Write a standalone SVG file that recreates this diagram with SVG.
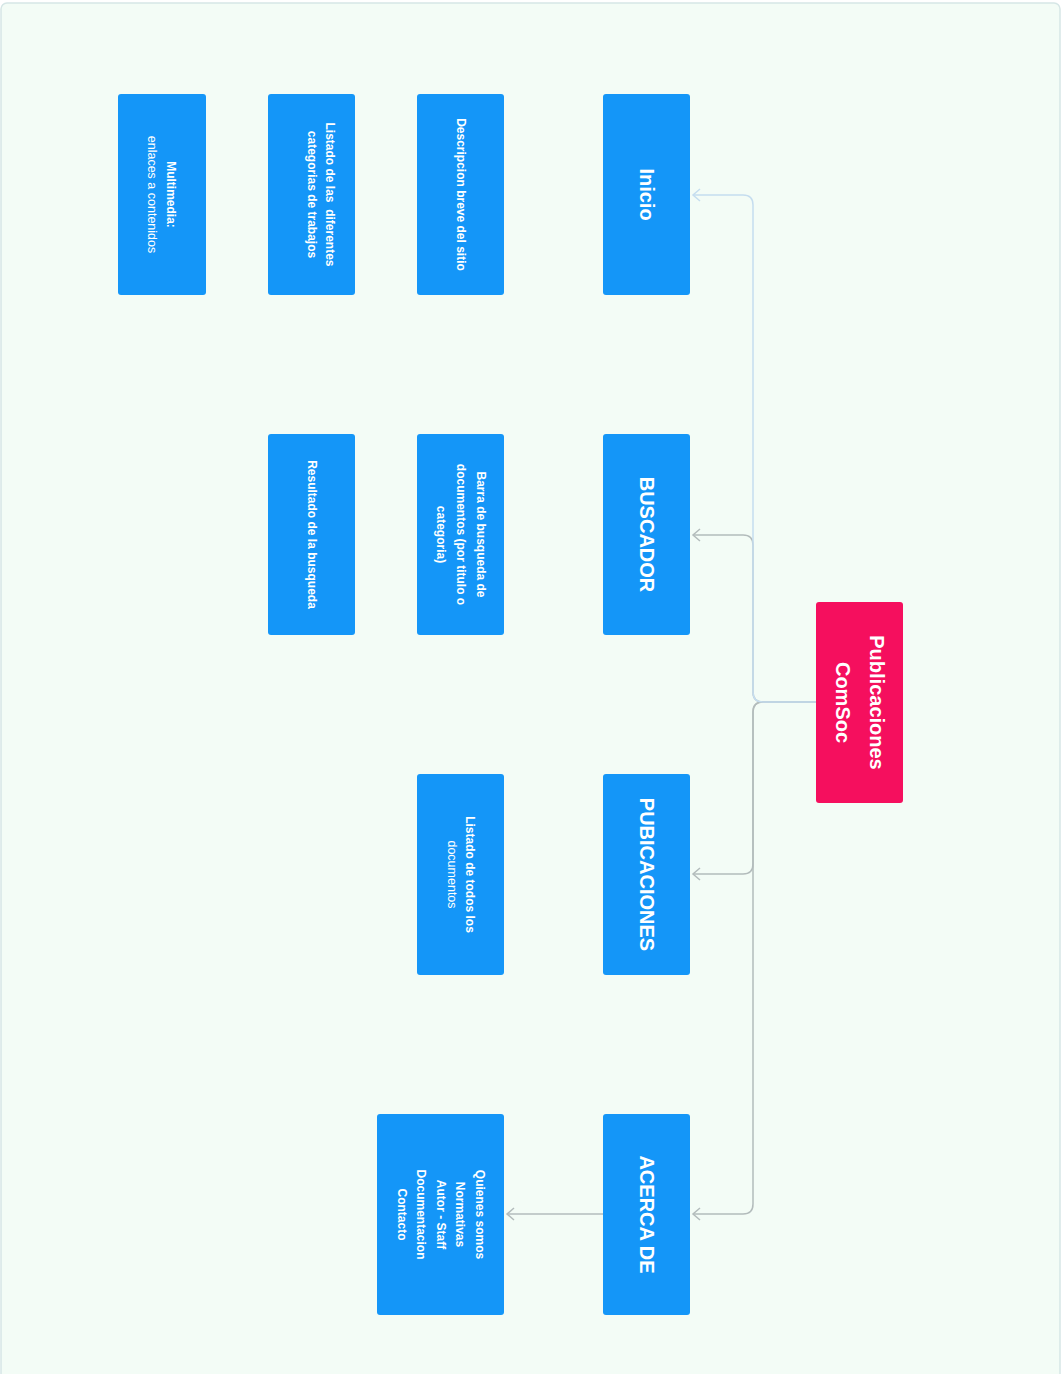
<svg xmlns="http://www.w3.org/2000/svg" width="1062" height="1374" viewBox="0 0 1062 1374">
<style>
.bg{fill:#f3fcf6;stroke:#d6e6e6;stroke-width:1.5}
.n{fill:#1496f8}
.root{fill:#f50f5e}
text{font-family:"Liberation Sans",Arial,sans-serif;fill:#ffffff;text-anchor:middle;dominant-baseline:central;white-space:pre}
.t{font-size:20px;font-weight:bold}
.s{font-size:12px;font-weight:bold}
.r{font-size:12.5px;font-weight:normal}
.cg{fill:none;stroke:#b3bcbc;stroke-width:1.5}
.cb{fill:none;stroke:#c5ddef;stroke-width:1.5}
</style>
<defs>
<marker id="ag" viewBox="-10 -8 12 16" refX="0" refY="0" markerWidth="12" markerHeight="16" markerUnits="userSpaceOnUse" orient="auto">
<path d="M-7,-6 L0,0 L-7,6" fill="none" stroke="#b3bcbc" stroke-width="1.5"/>
</marker>
<marker id="ab" viewBox="-10 -8 12 16" refX="0" refY="0" markerWidth="12" markerHeight="16" markerUnits="userSpaceOnUse" orient="auto">
<path d="M-7,-6 L0,0 L-7,6" fill="none" stroke="#c5ddef" stroke-width="1.5"/>
</marker>
</defs>
<rect class="bg" x="1" y="3" width="1059" height="1380" rx="6"/>
<g id="connectors">
<path class="cg" d="M816,702 H763 Q753,702 753,692 V545 Q753,535 743,535 H693" marker-end="url(#ag)"/>
<path class="cg" d="M816,702 H763 Q753,702 753,712 V864 Q753,874 743,874 H693" marker-end="url(#ag)"/>
<path class="cg" d="M816,702 H763 Q753,702 753,712 V1204 Q753,1214 743,1214 H693" marker-end="url(#ag)"/>
<path class="cb" d="M816,702 H763 Q753,702 753,692 V205 Q753,195 743,195 H693" marker-end="url(#ab)"/>
<path class="cg" d="M603,1214 H507" marker-end="url(#ag)"/>
</g>
<g id="root">
<rect class="root" x="816" y="602" width="87" height="201" rx="3"/>
<g transform="translate(859.5,702.5) rotate(90)"><text class="t" x="0" y="-17">Publicaciones</text><text class="t" x="0" y="17">ComSoc</text></g>
</g>
<g id="inicio">
<rect class="n" x="603" y="94" width="87" height="201" rx="3"/>
<g transform="translate(646.5,194.5) rotate(90)"><text class="t" x="0" y="0">Inicio</text></g>
</g>
<g id="descripcion">
<rect class="n" x="417" y="94" width="87" height="201" rx="3"/>
<g transform="translate(460.5,194.5) rotate(90)"><text class="s" x="0" y="0">Descripcion breve del sitio</text></g>
</g>
<g id="categorias">
<rect class="n" x="268" y="94" width="87" height="201" rx="3"/>
<g transform="translate(311.5,194.5) rotate(90)"><text class="s" x="0" y="-18.5" xml:space="preserve">Listado de las  diferentes</text><text class="s" x="0" y="0">categorias de trabajos</text></g>
</g>
<g id="multimedia">
<rect class="n" x="118" y="94" width="88" height="201" rx="3"/>
<g transform="translate(162,194.5) rotate(90)"><text class="s" x="0" y="-8.5">Multimedia:</text><text class="r" x="0" y="10">enlaces a contenidos</text></g>
</g>
<g id="buscador">
<rect class="n" x="603" y="434" width="87" height="201" rx="3"/>
<g transform="translate(646.5,534.5) rotate(90)"><text class="t" x="0" y="0">BUSCADOR</text></g>
</g>
<g id="barra">
<rect class="n" x="417" y="434" width="87" height="201" rx="3"/>
<g transform="translate(460.5,534.5) rotate(90)"><text class="s" x="0" y="-20">Barra de busqueda de</text><text class="s" x="0" y="0">documentos (por titulo o</text><text class="s" x="0" y="20">categoria)</text></g>
</g>
<g id="resultado">
<rect class="n" x="268" y="434" width="87" height="201" rx="3"/>
<g transform="translate(311.5,534.5) rotate(90)"><text class="s" x="0" y="0">Resultado de la busqueda</text></g>
</g>
<g id="publicaciones">
<rect class="n" x="603" y="774" width="87" height="201" rx="3"/>
<g transform="translate(646.5,874.5) rotate(90)"><text class="t" x="0" y="0">PUBICACIONES</text></g>
</g>
<g id="listado-todos">
<rect class="n" x="417" y="774" width="87" height="201" rx="3"/>
<g transform="translate(460.5,874.5) rotate(90)"><text class="s" x="0" y="-9">Listado de todos los</text><text class="r" x="0" y="9">documentos</text></g>
</g>
<g id="acerca">
<rect class="n" x="603" y="1114" width="87" height="201" rx="3"/>
<g transform="translate(646.5,1214.5) rotate(90)"><text class="t" x="0" y="0">ACERCA DE</text></g>
</g>
<g id="quienes">
<rect class="n" x="377" y="1114" width="127" height="201" rx="3"/>
<g transform="translate(440.5,1214.5) rotate(90)"><text class="s" x="0" y="-39">Quienes somos</text><text class="s" x="0" y="-19.5">Normativas</text><text class="s" x="0" y="0">Autor - Staff</text><text class="s" x="0" y="19.5">Documentacion</text><text class="s" x="0" y="39">Contacto</text></g>
</g>
</svg>
